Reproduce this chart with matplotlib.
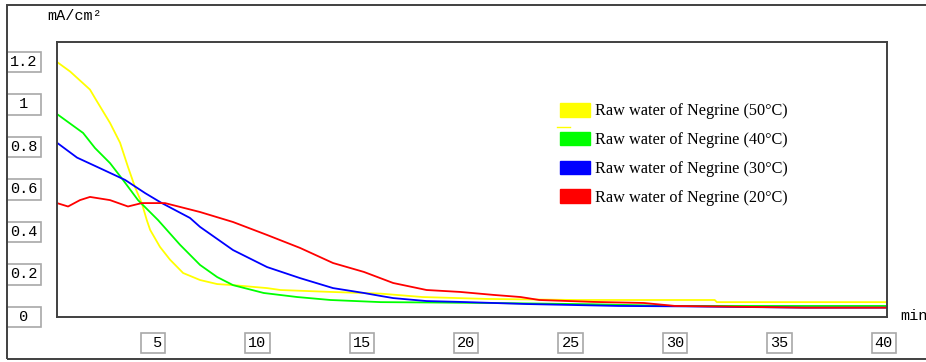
import matplotlib.pyplot as plt
from matplotlib.patches import Patch, Rectangle
from matplotlib.lines import Line2D

# current density (mA/cm2) vs time (min)
x_50 = [0.4, 1.03, 1.98, 2.22, 2.94, 3.42, 3.8, 4.14, 4.46, 4.7, 4.86, 5.33, 5.81, 6.44, 7.25,
        8.07, 8.83, 10.46, 11.1, 13.5, 15.9, 17.9, 21.0, 25.3, 31.9, 32.0, 40.1]
y_50 = [1.2, 1.155, 1.07, 1.03, 0.913, 0.82, 0.706, 0.61, 0.536, 0.456, 0.41, 0.33, 0.27, 0.207, 0.174,
        0.155, 0.15, 0.136, 0.127, 0.118, 0.11, 0.094, 0.085, 0.08, 0.08, 0.07, 0.07]

x_40 = [0.4, 1.65, 2.22, 2.94, 3.56, 4.28, 5.24, 6.29, 7.25, 8.07, 8.83, 10.3, 11.9, 13.5,
        15.9, 18.6, 22.0, 26.0, 30.0, 40.1]
y_40 = [0.955, 0.866, 0.795, 0.724, 0.645, 0.55, 0.456, 0.34, 0.245, 0.188, 0.15, 0.113, 0.094, 0.08,
        0.07, 0.068, 0.065, 0.06, 0.052, 0.052]

x_30 = [0.4, 1.36, 2.46, 3.66, 4.62, 5.42, 6.77, 7.25, 8.83, 10.46, 12.04, 13.62, 15.1, 15.9,
        16.5, 18.1, 19.7, 22.9, 27.3, 30.4, 36.2, 40.1]
y_30 = [0.82, 0.75, 0.70, 0.645, 0.583, 0.536, 0.466, 0.424, 0.315, 0.235, 0.183, 0.136, 0.113, 0.099,
        0.089, 0.075, 0.071, 0.061, 0.052, 0.05, 0.044, 0.044]

x_20 = [0.4, 0.93, 1.5, 1.98, 2.94, 3.8, 4.46, 5.57, 7.25, 8.83, 10.46, 12.04, 13.62, 15.1,
        16.5, 18.1, 19.7, 21.3, 22.6, 23.5, 26.1, 28.5, 30.0, 36.2, 40.1]
y_20 = [0.536, 0.52, 0.55, 0.565, 0.55, 0.52, 0.536, 0.536, 0.494, 0.447, 0.386, 0.325, 0.254, 0.212,
        0.16, 0.127, 0.118, 0.104, 0.094, 0.08, 0.071, 0.066, 0.052, 0.044, 0.044]

labels = ['Raw water of Negrine (50°C)', 'Raw water of Negrine (40°C)',
          'Raw water of Negrine (30°C)', 'Raw water of Negrine (20°C)']
colors = ['#ffff00', '#00ff00', '#0000ff', '#ff0000']

x_ticks = [5, 10, 15, 20, 25, 30, 35, 40]
x_ticklabels = [' 5', '10', '15', '20', '25', '30', '35', '40']
y_ticks = [1.2, 1.0, 0.8, 0.6, 0.4, 0.2, 0.0]
y_ticklabels = ['1.2', ' 1 ', '0.8', '0.6', '0.4', '0.2', ' 0 ']

W, H = 926, 362
fig = plt.figure(figsize=(W / 100, H / 100), dpi=100)
ax = fig.add_axes([57 / W, 1 - 317 / H, 830 / W, 275 / H])

series = [(x_50, y_50), (x_40, y_40), (x_30, y_30), (x_20, y_20)]
for (xs, ys), c in zip(series, colors):
    ax.plot(xs, ys, color=c, lw=1.3, solid_joinstyle='round')

ax.set_xlim(0.4, 40.15)
ax.set_ylim(0, 1.294)
ax.set_xticks([])
ax.set_yticks([])
for s in ax.spines.values():
    s.set_color('#404040')
    s.set_linewidth(1.4)

mono = 'Liberation Mono'
box = dict(boxstyle='square,pad=0.2', fc='white', ec='#a8a8a8', lw=1.2)
for v, t in zip(x_ticks, x_ticklabels):
    ax.text(v, -0.093, t, transform=ax.get_xaxis_transform(), ha='center', va='center',
            family=mono, fontsize=11, color='black', bbox=box, clip_on=False)
for v, t in zip(y_ticks, y_ticklabels):
    ax.text(-0.0398, v, t, transform=ax.get_yaxis_transform(), ha='center', va='center',
            family=mono, fontsize=11, color='black', bbox=box, clip_on=False)

fig.text(47 / W, 1 - 16 / H, 'mA/cm²', family=mono, fontsize=11, ha='left', va='center', color='black')
fig.text(900 / W, 1 - 316 / H, 'min', family=mono, fontsize=11, ha='left', va='center', color='black')

# outer frame
fig.add_artist(Rectangle((7 / W, 1 - 359 / H), 1.0, 354 / H, transform=fig.transFigure,
                         fill=False, ec='#404040', lw=1.4))

handles = [Patch(facecolor=c, edgecolor=c) for c in colors]
fig.legend(handles, labels, loc='upper left', bbox_to_anchor=(560 / W, 1 - 103 / H),
           frameon=False, borderpad=0, borderaxespad=0, handlelength=1.85, handleheight=0.92,
           handletextpad=0.3, labelspacing=0.76,
           prop={'family': 'Liberation Serif', 'size': 11.7})
fig.add_artist(Line2D([557 / W, 570 / W], [1 - 127 / H] * 2, color='#ffff00', lw=1))

fig.savefig('out.png', dpi=100)
